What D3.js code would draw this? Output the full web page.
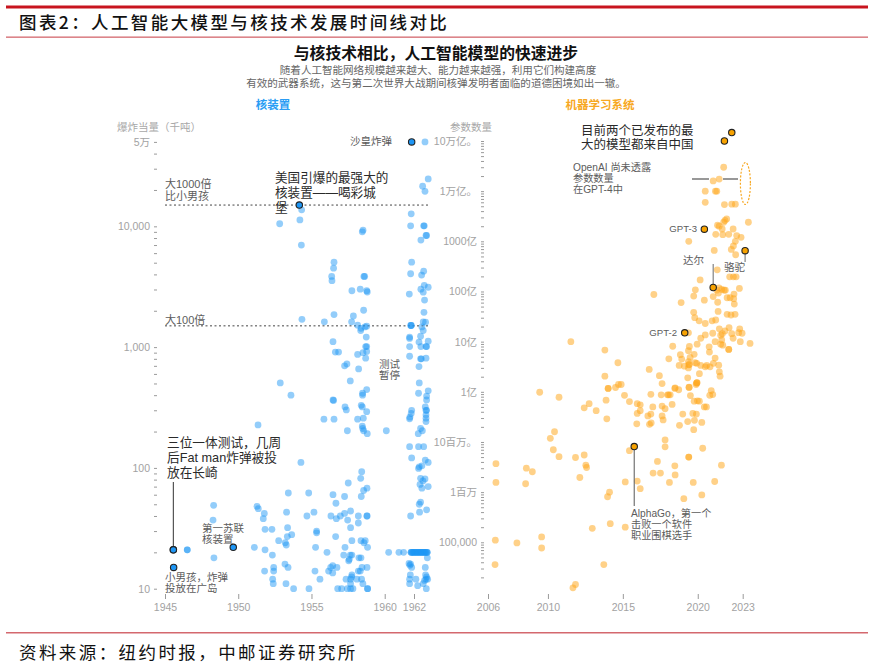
<!DOCTYPE html>
<html>
<head>
<meta charset="utf-8">
<script src="https://cdn.jsdelivr.net/npm/d3@7"></script>
<style>
  body { margin: 0; background: #fff; }
  svg { display: block; font-family: "Liberation Sans", "Noto Sans CJK SC", sans-serif; }
  .axis .domain { display: none; }
  .axis line { stroke: #9a9a9a; }
  .axis text { fill: #a2a2a2; font-size: 10.5px; font-family: "Liberation Sans", "Noto Sans CJK SC", sans-serif; }
</style>
</head>
<body>
<svg width="873" height="668"></svg>
<script>
// [year, yield in kilotons]
var nuclearTests = [
  [1946.52,21],[1946.52,21],[1948.34,18],[1948.28,37],[1948.32,49],[1951.1,22],[1951.83,21],[1952.33,19],[1951.8,14],[1952.42,15],
  [1952.42,14],[1952.35,12],[1952.39,11],[1953.26,11],[1953.78,10],[1954.83,10],[1953.19,16],[1953.4,15],[1952.76,25],[1953.21,24],
  [1953.28,23],[1953.37,32],[1953.65,28],[1953.35,27],[1951.83,31],[1952.3,31],[1951.78,42],[1951.71,38],[1951.28,48],[1951.37,46],
  [1953.3,43],[1953.42,62],[1954.81,62],[1954.69,40],[1955.17,43],[1955.35,30],[1955.35,29],[1955.28,22],[1955.24,14],[1955.58,12],
  [1956.06,20],[1956.17,14],[1956.31,15],[1956.45,15.5],[1956.45,13.5],[1956.74,15],[1956.33,40],[1956.7,38],[1956.97,40],[1957.26,42],
  [1957.67,44],[1958.2,40],[1958.79,40],[1958.79,40],[1957.47,37],[1958.2,35],[1957.67,32],[1956.67,51],[1956.47,60],[1957.26,58],
  [1958.4,58],[1958.56,65],[1958.79,68],[1957.51,75],[1958.36,82],[1958.43,93],[1956.65,27],[1957.76,25],[1958.38,25],[1958.67,25],
  [1958.58,24],[1958.83,22],[1957.29,22],[1957.2,19],[1957.65,19],[1957.76,19],[1957.58,17.5],[1957.54,17],[1958.24,18],[1958.38,18],
  [1958.2,14],[1958.45,15],[1958.79,15],[1958.33,14],[1957.36,12],[1957.67,12],[1957.74,12.5],[1957.76,13],[1958.1,12],[1958.42,12],
  [1958.51,11],[1957.67,11],[1956.79,10],[1957.06,10],[1957.45,10],[1957.67,10],[1957.83,10],[1958.83,10],[1958.83,10],
  [1960.27,20],[1960.97,20],[1961.29,20],[1961.8,20],[1961.9,20],[1962,20],[1962.1,20],[1962.2,20],[1962.3,20],[1962.4,20],
  [1962.5,20],[1962.6,20],[1962.7,20],[1962.8,20],[1962.9,20],[1961.85,20],[1961.95,20],[1962.05,20],[1962.15,20],[1962.25,20],
  [1962.35,20],[1962.45,20],[1962.55,20],[1962.65,20],[1962.75,20],[1962.85,20],[1961.8,20],[1962.9,20],
  [1961.66,16.2],[1961.77,16],[1961.72,15.6],[1961.84,15],[1962.91,18],[1962.77,15],[1961.75,13],[1962.79,13],[1961.7,12],[1962.13,12],
  [1961.7,11],[1962.25,10.6],[1962.63,11],[1962.82,12],[1962.86,12.5],[1962.93,12],[1962.72,11.7],[1962.84,10],
  [1951.35,227],[1954.28,111],[1952.87,505],[1953.6,400],[1955.85,253],[1956.54,253],[1958.15,253],[1958.54,258],[1957.45,203],[1958.47,222],
  [1958.5,212],[1958.56,203],[1958.81,192],[1960.11,203],[1956.47,365],[1956.51,362],[1957.29,320],[1957.38,302],[1958.4,330],[1958.47,320],
  [1958.77,292],[1958.49,415],[1958.49,400],[1958.77,445],[1957.65,525],[1958.22,660],[1957.42,725],[1957.26,700],[1961.84,300],[1961.81,282],
  [1961.72,263],[1961.7,255],[1962.77,320],[1962.82,300],[1962.86,300],[1962.82,275],[1962.82,258],[1962.82,242],[1962.45,212],[1962.57,203],
  [1962.29,192],[1962.36,505],[1962.31,415],[1962.97,435],[1962.86,393],[1962.86,365],[1961.7,150],[1962.31,150],[1962.66,150],[1961.84,121],
  [1962.77,116],[1962.97,111],[1962.31,99],[1962.36,102],[1962.54,104],[1962.45,82],[1962.75,81],[1962.61,78],[1962.41,73],[1962.54,68],
  [1962.97,70],[1962.45,52],[1962.36,50],[1962.86,45],[1962.38,43],[1961.77,40],
  [1962.75,50000],[1962.97,24700],[1962.59,21500],[1962.75,19500],[1954.33,13700],[1954.21,11300],[1952.83,10500],[1961.81,12700],[1961.77,10100],[1962.66,10100],
  [1962.7,10100],[1958.52,9300],[1958.47,9000],[1962.82,8400],[1962.86,8400],[1962.47,7700],[1954.31,7000],[1956.54,5050],[1961.84,5050],[1956.51,4500],
  [1962.66,4250],[1961.77,4050],[1962.52,3950],[1956.38,3850],[1956.4,3550],[1958.58,3850],[1958.63,3850],[1962.7,3250],[1962.97,3130],[1962.47,3020],
  [1957.76,2930],[1958.33,3020],[1958.77,2930],[1958.81,2860],[1961.68,2750],[1962.63,2850],[1962.72,2450],[1958.56,2020],[1962.68,1940],[1956.54,1860],
  [1957.86,1810],[1954.35,1700],[1955.88,1620],[1957.74,1620],[1962.63,1620],[1962.79,1610],[1961.81,1510],[1961.81,1510],[1961.77,1510],[1958.15,1520],
  [1958.38,1430],[1958.36,1370],[1958.77,1490],[1958.65,1470],[1962.54,1470],[1962.63,1370],[1962.45,1230],[1956.47,1110],[1958.74,1210],[1962.34,1100],
  [1962.97,1120],[1961.7,1180],[1961.7,1210],[1961.7,1010],[1962.47,1010],[1962.82,1010],[1962.86,1010],[1958.7,1010],[1958.77,1010],[1956.63,910],
  [1956.85,910],[1958.15,870],[1958.52,900],[1958.77,920],[1961.7,840],[1962.45,800],[1962.5,800],[1962.82,810],[1958.7,810],[1962.34,690]
];

// [year, parameter count]
var mlModels = [
  [2021.73,3e12],[2021.43,1.74e12],[2021.03,1.6e12],[2020.5,1e12],[2021.18,1e12],[2021.27,1e12],[2020.5,6e11],[2021.78,5.4e11],[2022.27,5.5e11],[2022.51,5.5e11],
  [2021.93,2.8e11],[2021.82,2.6e11],[2021.73,2.4e11],[2023.38,2.4e11],[2021.32,2.1e11],[2021.43,2e11],[2021.63,1.76e11],[2022.36,1.76e11],[2021.2,1.38e11],[2021.67,1.36e11],
  [2022.07,1.38e11],[2022.6,1.3e11],[2022.89,1.2e11],[2022.51,1e11],[2022.38,8.1e10],[2022.24,6.9e10],[2019.4,1e11],[2021.1,6.6e10],[2022.53,5.4e10],[2021.3,2.7e10],
  [2022.13,1.96e10],[2022.38,1.96e10],[2022.56,1.96e10],[2020.16,1.7e10],[2019.84,1.08e10],[2022.78,1.15e10],[2021.42,1.18e10],[2021.6,1.1e10],[2021.76,1.06e10],[2021.84,1.06e10],
  [2021.27,1.06e10],[2017.07,8.7e9],[2019.73,8.1e9],[2021.03,7.9e9],[2021.38,9.3e9],[2022.42,8.9e9],[2021.96,7.5e9],[2022.16,7.5e9],[2022.4,7.2e9],[2020.44,6.7e9],
  [2021.33,6.1e9],[2018.89,6e9],[2022.44,5.6e9],[2019.73,3.85e9],[2021.36,4e9],[2021.96,3.5e9],[2022.22,3.4e9],[2022.49,3.5e9],[2019.8,3e9],[2020.09,2.6e9],
  [2020.5,2.3e9],[2020.96,2.6e9],[2021.2,2.7e9],[2021.44,1.8e9],[2022.09,1.9e9],[2022.8,1.8e9],[2019.38,1.5e9],[2021.82,1.63e9],[2021,1.47e9],[2021.64,1.44e9],
  [2022.27,1.44e9],[2022.96,1.47e9],[2022.73,1.51e9],[2020.5,1.36e9],[2020.2,1.17e9],[2021.53,1.34e9],[2022.36,1.17e9],[2021.16,1e9],[2021.6,1.08e9],[2022.84,1e9],
  [2019.96,8.9e8],[2023.49,9.2e8],[2011.53,1e9],[2013.8,6.8e8],[2018.33,8.1e8],[2019.44,8e8],[2020.76,7.9e8],[2022.07,7e8],[2022.07,7e8],[2021.67,8.5e8],
  [2021.53,8.9e8],[2019.38,6.6e8],[2020.78,6.2e8],[2018.84,5.5e8],[2019.76,5.6e8],[2018.07,4.55e8],[2018.93,4.5e8],[2021.16,4.7e8],[2014.67,3.8e8],[2019.82,3.8e8],
  [2019.38,4e8],[2016.76,2.8e8],[2018.76,3.35e8],[2019.11,3.25e8],[2019.4,3.45e8],[2019.38,3e8],[2019.93,3.7e8],[2020.2,3.35e8],[2020.6,3.35e8],[2020.82,3.15e8],
  [2021.04,3.7e8],[2021.4,3.4e8],[2021.44,2.5e8],[2021.49,2.05e8],[2019.33,1.9e8],[2020.11,2.3e8],[2013.8,2.05e8],[2017.44,2.1e8],[2017.62,1.46e8],[2019.96,1.53e8],
  [2019.89,1.4e8],[2014.02,1.17e8],[2014.02,1.17e8],[2014.51,1.22e8],[2014.71,1.4e8],[2014.89,1.4e8],[2018.47,1.17e8],[2018.73,1.1e8],[2019.42,1.22e8],[2020.9,1.06e8],
  [2021,8.8e7],[2020.8,8.5e7],[2016.87,8.9e7],[2017.56,8.7e7],[2017.98,8.7e7],[2018.16,8.7e7],[2018.05,8.7e7],[2015.11,8.5e7],[2019.51,8.4e7],[2009.45,9.8e7],
  [2010.74,7.8e7],[2013.88,6.8e7],[2012.75,5.8e7],[2012.42,4.8e7],[2013.22,4.2e7],[2015.44,6.4e7],[2015.96,5.8e7],[2016.16,5.5e7],[2017.62,5.2e7],[2017,5e7],
  [2017.82,4.6e7],[2018.29,5.6e7],[2019.76,6.5e7],[2019.98,6.6e7],[2020.11,6.5e7],[2020.44,5e7],[2020.58,5e7],[2016.16,4.2e7],[2015.96,3.7e7],[2016.87,3.6e7],
  [2016.67,3.3e7],[2017.62,3.3e7],[2017.69,2.75e7],[2019,3.6e7],[2019.67,3.7e7],[2019.91,3.6e7],[2019.78,2.7e7],[2019.33,2.55e7],[2020.27,2.45e7],[2013.93,2.9e7],
  [2015.93,2.3e7],[2016.78,2.25e7],[2016.89,2.4e7],[2018.78,2.15e7],[2019.73,1.76e7],[2010.44,1.6e7],[2010.16,1.18e7],[2017.82,1.1e7],[2017.82,8e6],[2020.33,7.5e6],
  [2010.36,7e6],[2010.74,5.1e6],[2011.84,4.9e6],[2012.42,5.5e6],[2015.44,6.7e6],[2019.4,5e6],[2019.4,5e6],[2017.31,4.1e6],[2018.47,3.35e6],[2021.58,3.45e6],
  [2006.53,3.7e6],[2008.56,3e6],[2008.96,2.55e6],[2012.53,3.45e6],[2012.58,3.1e6],[2012.13,1.96e6],[2017.02,2.4e6],[2017.51,2.4e6],[2018.49,2.2e6],[2006.53,1.56e6],
  [2008.51,1.47e6],[2015.16,1.6e6],[2015.96,1.66e6],[2016.16,1.17e6],[2018.11,1.56e6],[2019.7,1.56e6],[2021.13,1.63e6],[2014.11,1e6],[2013.98,8.1e5],[2020.27,8.8e5],
  [2019.07,7.4e5],[2012.96,1.9e5],[2014.16,2.35e5],[2015.16,2e5],[2009.58,1.28e5],[2006.49,1.1e5],[2007.93,9.7e4],[2009.58,7.7e4],[2006.47,3.6e4],[2013.73,3.6e4],
  [2011.84,1.44e4],[2011.67,1.24e4],[2019.49,4.85e8],[2019.44,3.5e8],[2020.5,3.15e8],[2019.93,1.5e8],[2019.93,1.5e8],[2019.42,1.24e8],[2018.49,1.2e8]
];

// named points, drawn on top with a dark outline
var nuclearHighlights = [[1945.57,21],[1945.57,21],[1945.59,15],[1949.66,22],[1954.17,15000],[1961.84,50000]];
var mlHighlights = [[2022.27,1.47e13],[2021.78,1e13],[2020.44,1.75e11],[2021.03,1.2e10],[2019.13,1.5e9],[2023.16,6.5e10],[2015.76,8.1e6]];

var nuclearYearTicks = [1945, 1950, 1955, 1960, 1962];
var mlYearTicks = [2006, 2010, 2015, 2020, 2023];
var yieldLabels = {10: "10", 100: "100", 1000: "1,000", 10000: "10,000", 50000: "5万"};
var paramLabels = {1e13: "10万亿。", 1e12: "1万亿。", 1e11: "1000亿", 1e10: "100亿", 1e9: "10亿", 1e8: "1亿", 1e7: "10百万。", 1e6: "1百万", 1e5: "100,000"};

var svg = d3.select("svg");

var xNuke = d3.scaleLinear().domain([1945, 1962]).range([165, 414]),
    yNuke = d3.scaleLog().domain([10, 50000]).range([588.7, 141.9]),
    xMl = d3.scaleLinear().domain([2006, 2023]).range([488, 742.7]),
    yMl = d3.scaleLog().domain([1e5, 1e13]).range([542.3, 141]);

function logTicks(lo, hi) {
  var out = [];
  for (var e = lo; e < hi; e++) {
    for (var m = 1; m < 10; m++) out.push(m * Math.pow(10, e));
  }
  return out;
}

var yieldTicks = logTicks(1, 4).concat([10000, 20000, 30000, 40000, 50000]);
var paramTicks = logTicks(4, 13).filter(function(d) { return d >= 2e4; }).concat([1e13]);

/* ===== PAGE FRAME ===== */
svg.append("rect").attr("x", 6).attr("y", 5.5).attr("width", 862).attr("height", 3).attr("fill", "#c8141e");
svg.append("rect").attr("x", 6).attr("y", 36.5).attr("width", 862).attr("height", 1.3).attr("fill", "#d4686e");
svg.append("rect").attr("x", 6).attr("y", 632).attr("width", 862).attr("height", 1.5).attr("fill", "#d4686e");

svg.append("text").attr("x", 19).attr("y", 29)
    .attr("font-size", 17.5).attr("font-weight", 500).attr("letter-spacing", 2.4).attr("fill", "#111")
    .attr("font-family", "'Noto Sans CJK SC'")
    .text("图表2：人工智能大模型与核技术发展时间线对比");
svg.append("text").attr("x", 19).attr("y", 659)
    .attr("font-size", 17.5).attr("letter-spacing", 2.42).attr("fill", "#111")
    .attr("font-family", "'Noto Sans CJK SC'")
    .text("资料来源：纽约时报，中邮证券研究所");

/* ===== HEADINGS ===== */
function label(x, y, size, color, lines, anchor, lineGap, weight) {
  var t = svg.append("text")
      .attr("font-size", size).attr("fill", color)
      .attr("font-weight", weight || 400)
      .attr("text-anchor", anchor || "start");
  lines.forEach(function(s, i) {
    t.append("tspan").attr("x", x).attr("y", y + i * (lineGap || 0)).attr("dy", "0.36em").text(s);
  });
}

label(436, 53, 15.8, "#111", ["与核技术相比，人工智能模型的快速进步"], "middle", 0, 700);
label(438, 70, 10.55, "#666", ["随着人工智能网络规模越来越大、能力越来越强，利用它们构建高度"], "middle");
label(436, 83, 10.55, "#666", ["有效的武器系统，这与第二次世界大战期间核弹发明者面临的道德困境如出一辙。"], "middle");
label(273, 105, 11.5, "#2a9df4", ["核装置"], "middle", 0, 700);
label(600, 105, 11.5, "#f7a823", ["机器学习系统"], "middle", 0, 700);
label(117, 127, 10.5, "#a8a8a8", ["爆炸当量（千吨）"]);
label(450, 127, 10.5, "#a8a8a8", ["参数数量"]);

/* ===== AXES ===== */
svg.append("g").attr("class", "axis")
    .attr("transform", "translate(157,0)")
    .call(d3.axisLeft(yNuke).tickValues(yieldTicks).tickSize(3).tickPadding(4)
      .tickFormat(function(d) { return yieldLabels[d] || ""; }));

svg.append("g").attr("class", "axis")
    .attr("transform", "translate(484,0)")
    .call(d3.axisLeft(yMl).tickValues(paramTicks).tickSize(3).tickPadding(4)
      .tickFormat(function(d) { return paramLabels[d] || ""; }));

svg.append("g").attr("class", "axis")
    .attr("transform", "translate(0,594)")
    .call(d3.axisBottom(xNuke).tickValues(nuclearYearTicks).tickSize(5).tickPadding(5).tickFormat(d3.format("d")));

svg.append("g").attr("class", "axis")
    .attr("transform", "translate(0,594)")
    .call(d3.axisBottom(xMl).tickValues(mlYearTicks).tickSize(5).tickPadding(5).tickFormat(d3.format("d")));

/* ===== REFERENCE LINES ===== */
[15000, 1500].forEach(function(v) {
  svg.append("line")
      .attr("x1", xNuke(1945)).attr("x2", xNuke(1963.1))
      .attr("y1", yNuke(v)).attr("y2", yNuke(v))
      .attr("stroke", "#444").attr("stroke-width", 1).attr("stroke-dasharray", "2,2.5");
});

/* ===== POINTS ===== */
function dots(data, x, y, color, opacity) {
  svg.append("g").selectAll("circle")
      .data(data)
      .enter().append("circle")
      .attr("cx", function(d) { return x(d[0]); })
      .attr("cy", function(d) { return y(d[1]); })
      .attr("r", 3.4)
      .attr("fill", color)
      .attr("fill-opacity", opacity);
}

function leader(x1, y1, x2, y2, color) {
  svg.append("line")
      .attr("x1", x1).attr("y1", y1).attr("x2", x2).attr("y2", y2)
      .attr("stroke", color).attr("stroke-width", 1.1);
}

dots(nuclearTests, xNuke, yNuke, "#1e96f5", 0.48);
dots(mlModels, xMl, yMl, "#ffa61a", 0.52);

// leaders go under the highlighted dots
leader(xNuke(1945.57), 482, xNuke(1945.57), yNuke(21), "#444");
leader(xMl(2021.03), 264, xMl(2021.03), yMl(1.2e10), "#777");
leader(xMl(2023.16), yMl(6.5e10), xMl(2023.16), 262, "#777");
leader(xMl(2015.76), yMl(8.1e6), xMl(2015.76), 506, "#666");
leader(692, 179, 709, 179, "#444");
leader(723, 179, 738, 179, "#444");

function highlights(data, x, y, color) {
  svg.append("g").selectAll("circle")
      .data(data)
      .enter().append("circle")
      .attr("cx", function(d) { return x(d[0]); })
      .attr("cy", function(d) { return y(d[1]); })
      .attr("r", 3.2)
      .attr("fill", color)
      .attr("stroke", "#222")
      .attr("stroke-width", 1.1);
}
highlights(nuclearHighlights, xNuke, yNuke, "#1e96f5");
highlights(mlHighlights, xMl, yMl, "#f7a200");

// GPT-4 range, parameters undisclosed
svg.append("ellipse")
    .attr("cx", xMl(2023.18)).attr("cy", yMl(1.42e12))
    .attr("rx", 5).attr("ry", 21)
    .attr("fill", "none").attr("stroke", "#f7a823").attr("stroke-width", 1.2).attr("stroke-dasharray", "2,1.6");

/* ===== ANNOTATIONS ===== */
var grey = "#5c5c5c", dark = "#2a2a2a";
label(350, 141, 10.5, grey, ["沙皇炸弹"]);
label(165, 184, 11, grey, ["大1000倍", "比小男孩"], "start", 12.5);
label(165, 320.5, 11, grey, ["大100倍"]);
label(275, 177, 12.6, dark, ["美国引爆的最强大的", "核装置——喝彩城", "堡"], "start", 15);
label(379, 364, 10.5, grey, ["测试", "暂停"], "start", 11);
label(167, 442, 12.7, dark, ["三位一体测试，几周", "后Fat man炸弹被投", "放在长崎"], "start", 15);
label(202, 528, 10.5, grey, ["第一苏联", "核装置"], "start", 11);
label(165, 577, 10.5, grey, ["小男孩，炸弹", "投放在广岛"], "start", 11);

label(581, 130, 12.5, dark, ["目前两个已发布的最", "大的模型都来自中国"], "start", 14.5);
label(573, 167, 10.2, grey, ["OpenAI 尚未透露", "参数数量", "在GPT-4中"], "start", 11);
label(697, 229, 9.6, grey, ["GPT-3"], "end");
label(683, 260, 10.5, grey, ["达尔"]);
label(724, 267, 10.5, grey, ["骆驼"]);
label(677, 333, 9.6, grey, ["GPT-2"], "end");
label(631, 513, 10.2, grey, ["AlphaGo，第一个", "击败一个软件", "职业围棋选手"], "start", 11);
</script>
</body>
</html>
